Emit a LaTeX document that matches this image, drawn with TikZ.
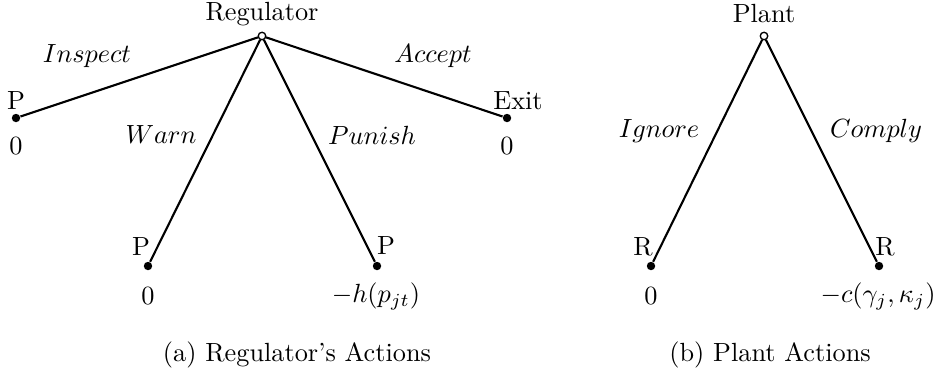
\documentclass[tikz,border=0pt]{standalone}
\begin{document}
\begin{tikzpicture}[x=0.38023pt,y=-0.38023pt,
  edge/.style={line width=0.8pt},
  root/.style={circle,draw,fill=white,line width=0.45pt,inner sep=0pt,minimum size=2.8pt},
  leaf/.style={circle,fill=black,inner sep=0pt,minimum size=3.2pt},
  txt/.style={inner sep=0pt,font=\normalsize},
  act/.style={inner sep=0pt}]
\useasboundingbox (0,0) rectangle (940,374);
% (a) Regulator
\node[leaf] (l1) at (16,118) {};
\node[leaf] (l2) at (148,266) {};
\node[leaf] (l3) at (377,266) {};
\node[leaf] (l4) at (507,118) {};
\node[root] (r) at (262,36) {};
\draw[edge] (r) -- (l1);
\draw[edge] (r) -- (l2);
\draw[edge] (r) -- (l3);
\draw[edge] (r) -- (l4);
\node[root] (r2) at (262,36) {};
\node[txt] (rt) at (262,14) {Regulator};
\node[txt] (p1) at (16,101) {P};
\node[txt] (z1) at (16,146) {0};
\node[txt] (p2) at (141,247) {P};
\node[txt] (z2) at (148,296) {0};
\node[txt] (p3) at (386,246) {P};
\node[txt] (z3) at (376,296) {$-h(p_{jt})$};
\node[txt] (p4) at (518,101) {Exit};
\node[txt] (z4) at (507,146) {0};
\node[act] (a1) at (87,56) {$Inspect$};
\node[act] (a2) at (161,135) {$Warn$};
\node[act] (a3) at (372,135) {$Punish$};
\node[act] (a4) at (433,56) {$Accept$};
\node[txt] (ca) at (297,355) {(a) Regulator's Actions};
% (b) Plant
\node[leaf] (m1) at (651,266) {};
\node[leaf] (m2) at (879,266) {};
\node[root] (s) at (764,36) {};
\draw[edge] (s) -- (m1);
\draw[edge] (s) -- (m2);
\node[root] (s2) at (764,36) {};
\node[txt] (st) at (764,14) {Plant};
\node[txt] (q1) at (643,247) {R};
\node[txt] (y1) at (651,296) {0};
\node[txt] (q2) at (885,247) {R};
\node[txt] (y2) at (878,296) {$-c(\gamma_j,\kappa_j)$};
\node[act] (b1) at (659,131) {$Ignore$};
\node[act] (b2) at (876,131) {$Comply$};
\node[txt] (cb) at (770,355) {(b) Plant Actions};
\end{tikzpicture}
\end{document}
